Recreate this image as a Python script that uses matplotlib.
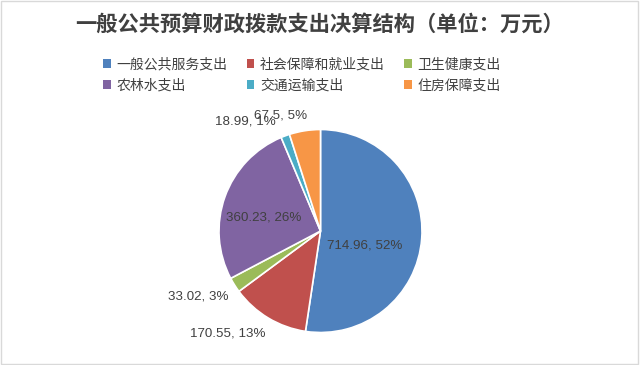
import matplotlib.pyplot as plt
import numpy as np
from matplotlib.patches import Patch, Rectangle

plt.rcParams['font.family'] = ['Noto Sans CJK SC', 'DejaVu Sans']

# data
categories = ['一般公共服务支出', '社会保障和就业支出', '卫生健康支出',
              '农林水支出', '交通运输支出', '住房保障支出']
values = [714.96, 170.55, 33.02, 360.23, 18.99, 67.5]
percents = ['52%', '13%', '3%', '26%', '1%', '5%']
colors = ['#4F81BD', '#C0504D', '#9BBB59', '#8064A2', '#4BACC6', '#F79646']

# label placement: (radius factor, angle shift in degrees)
label_pos = [(0.46, -14), (1.36, -11), (1.37, -4), (0.58, 6), (1.31, 14), (1.2, 10)]

fig = plt.figure(figsize=(6.4, 3.65), dpi=100)
W, H = 640, 365
cx, cy, r = 320.5, 231, 101.5
ax = fig.add_axes([(cx - r) / W, (H - cy - r) / H, 2 * r / W, 2 * r / H])

wedges, _ = ax.pie(values, colors=colors, startangle=90, counterclock=False,
                   radius=1, wedgeprops=dict(edgecolor='white', linewidth=1.2))
ax.set_xlim(-1, 1)
ax.set_ylim(-1, 1)
ax.set_aspect('equal')
ax.axis('off')

for w, v, p, (f, d) in zip(wedges, values, percents, label_pos):
    ang = np.deg2rad((w.theta1 + w.theta2) / 2 + d)
    ax.text(f * np.cos(ang), f * np.sin(ang), f'{v:g}, {p}',
            ha='center', va='center', fontsize=9.6, color='#404040',
            family=['Liberation Sans', 'DejaVu Sans'], clip_on=False)

fig.text(0.5, 1 - 24 / H, '一般公共预算财政拨款支出决算结构（单位：万元）',
         ha='center', va='center', fontsize=15.3, fontweight='bold', color='#404040')

# legend filled row by row (matplotlib fills columns first)
order = [0, 3, 1, 4, 2, 5]
handles = [Patch(facecolor=colors[i], edgecolor='none') for i in order]
fig.legend(handles, [categories[i] for i in order], ncol=3, loc='center',
           bbox_to_anchor=(302 / W, 1 - 75 / H), frameon=False,
           fontsize=10, handlelength=0.55, handleheight=0.55,
           handletextpad=0.4, columnspacing=1.4, labelspacing=0.5,
           labelcolor='#404040')

fig.patches.append(Rectangle((0.002, 0.003), 0.995, 0.993, transform=fig.transFigure,
                             fill=False, edgecolor='#D9D9D9', linewidth=1))

fig.savefig('out.png', dpi=100, facecolor='white')
